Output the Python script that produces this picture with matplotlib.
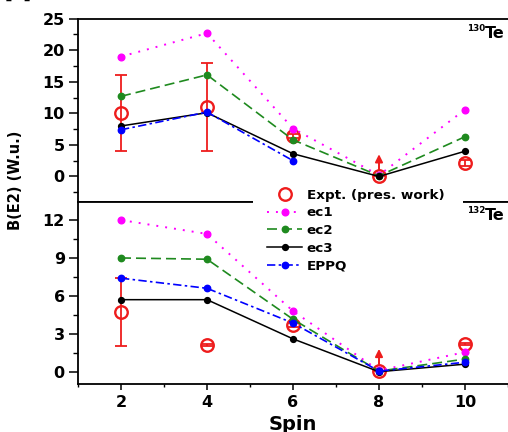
import numpy as np
import matplotlib
matplotlib.use("Agg")
import matplotlib.pyplot as plt
from matplotlib.patches import Rectangle
from matplotlib.lines import Line2D
import matplotlib.transforms as mtransforms

plt.rcParams['font.family'] = ['DejaVu Sans']
plt.rcParams['font.weight'] = 'bold'

# ---------------- data ----------------
spins = [2, 4, 6, 8, 10]

# 130Te (upper panel)
expt_130 = [10.0, 11.0, 6.4, 0.0, 2.1]
expt_130_err_lo = [6.0, 7.0, 0.3, 0.0, 0.5]
expt_130_err_hi = [6.0, 7.0, 0.3, 0.0, 0.5]
ec1_130 = [19.0, 22.7, 7.6, 0.2, 10.6]
ec2_130 = [12.7, 16.1, 5.8, 0.1, 6.3]
ec3_130 = [8.0, 10.1, 3.6, 0.0, 4.0]
eppq_130 = [7.4, 10.2, 2.5, np.nan, np.nan]

# 132Te (lower panel)
expt_132 = [4.7, 2.1, 3.7, 0.05, 2.2]
expt_132_err_lo = [2.7, 0.1, 0.15, 0.0, 0.1]
expt_132_err_hi = [2.7, 0.1, 0.15, 0.0, 0.1]
ec1_132 = [12.0, 10.9, 4.8, 0.1, 1.55]
ec2_132 = [9.0, 8.9, 4.15, 0.05, 1.0]
ec3_132 = [5.7, 5.7, 2.6, 0.0, 0.6]
eppq_132 = [7.4, 6.6, 3.85, 0.05, 0.75]

lower_limit_spin = 8  # experimental lower limit (arrow)

labels = ["Expt. (pres. work)", "ec1", "ec2", "ec3", "EPPQ"]
mass_numbers = ["130", "132"]
element = "Te"
xticks = [2, 4, 6, 8, 10]

# ---------------- style ----------------
RED = '#ee1c1c'
MAG = '#ff00ff'
GRN = '#1f8a1f'
BLU = '#0000ff'
BLK = '#000000'

W, H = 508, 432
fig = plt.figure(figsize=(W / 100, H / 100), dpi=100)

def fx(px):
    return px / W

def fy(py):
    return 1 - py / H

ax1 = fig.add_axes([fx(78), fy(201.7), fx(508) - fx(78), fy(18.7) - fy(201.7)])
ax2 = fig.add_axes([fx(78), fy(384), fx(508) - fx(78), fy(201.7) - fy(384)])

series_style = [
    dict(color=MAG, ls=(0, (1, 3.6)), lw=1.4, marker='o', ms=4.8),
    dict(color=GRN, ls=(0, (6, 3)), lw=1.2, marker='o', ms=4.6),
    dict(color=BLK, ls='-', lw=1.1, marker='o', ms=4.2),
    dict(color=BLU, ls=(0, (5, 2, 1.5, 2)), lw=1.2, marker='o', ms=4.6),
]

def draw_panel(ax, expt, elo, ehi, models):
    ax.errorbar(spins, expt, yerr=[elo, ehi], fmt='none', ecolor=RED,
                elinewidth=1.3, capsize=4, capthick=1.3, zorder=2)
    ax.plot(spins, expt, ls='none', marker='o', ms=9, mfc='none',
            mec=RED, mew=1.7, zorder=3)
    for vals, st in zip(models, series_style):
        ax.plot(spins, vals, color=st['color'], ls=st['ls'], lw=st['lw'],
                marker=st['marker'], ms=st['ms'], mfc=st['color'],
                mec=st['color'], zorder=4)
    # lower-limit arrow
    i = spins.index(lower_limit_spin)
    tip = ax.transData + mtransforms.ScaledTranslation(0, 16 / 72, fig.dpi_scale_trans)
    ax.annotate('', xy=(lower_limit_spin, expt[i]), xycoords=tip,
                xytext=(0, -11), textcoords='offset points',
                arrowprops=dict(arrowstyle='-|>', color=RED, lw=1.4,
                                mutation_scale=11, shrinkA=0, shrinkB=0),
                zorder=5)

draw_panel(ax1, expt_130, expt_130_err_lo, expt_130_err_hi,
           [ec1_130, ec2_130, ec3_130, eppq_130])
draw_panel(ax2, expt_132, expt_132_err_lo, expt_132_err_hi,
           [ec1_132, ec2_132, ec3_132, eppq_132])

for ax in (ax1, ax2):
    ax.set_xlim(1, 11)
    for s in ('left', 'top', 'bottom'):
        ax.spines[s].set_linewidth(1.3)
    ax.spines['right'].set_visible(False)
    ax.tick_params(axis='y', which='major', direction='out', length=6.5,
                   width=1.1, labelsize=11.5, pad=3)
    ax.tick_params(axis='y', which='minor', direction='out', length=3.4,
                   width=1.0)
    ax.tick_params(right=False, top=False)

ax1.set_ylim(-4, 25)
ax1.set_yticks([0, 5, 10, 15, 20, 25])
ax1.set_yticks(np.arange(-2.5, 25, 5), minor=True)
ax1.tick_params(axis='x', which='both', bottom=False, labelbottom=False)

ax2.set_ylim(-0.97, 13.45)
ax2.set_yticks([0, 3, 6, 9, 12])
ax2.set_yticks(np.arange(1.5, 13.5, 3), minor=True)
ax2.set_xticks(xticks)
ax2.set_xticks(np.arange(1, 11.5, 1), minor=True)
ax2.tick_params(axis='x', which='major', direction='out', length=4.2,
                width=1.1, labelsize=11.5, pad=4)
ax2.tick_params(axis='x', which='minor', direction='out', length=2.3,
                width=1.0)

for lab in ax1.get_yticklabels() + ax2.get_yticklabels() + ax2.get_xticklabels():
    lab.set_fontweight('bold')

# white patch hiding divider line behind legend
fig.patches.append(Rectangle((fx(253), fy(210)), fx(463) - fx(253), fy(187) - fy(210),
                             transform=fig.transFigure, facecolor='white',
                             edgecolor='none', zorder=4))

# legend
handles = [Line2D([], [], ls='none', marker='o', ms=9, mfc='none', mec=RED, mew=1.7)]
for st in series_style:
    handles.append(Line2D([], [], color=st['color'], ls=st['ls'], lw=st['lw'],
                          marker='o', ms=st['ms'], mfc=st['color'], mec=st['color']))
leg = fig.legend(handles, labels, loc='upper left',
                 bbox_to_anchor=(fx(267), fy(188.5)), frameon=False,
                 borderpad=0, borderaxespad=0, handlelength=2.6,
                 handletextpad=0.35, labelspacing=0.36,
                 prop=dict(size=9.7, weight='bold'))
leg.set_zorder(6)

# nucleus labels (element symbol with mass number as superscript)
renderer = fig.canvas.get_renderer()
for mass, base_px in zip(mass_numbers, (38.5, 220.5)):
    te = fig.text(fx(505), fy(base_px), element, ha='right', va='baseline',
                  fontsize=11.5, fontweight='bold')
    bb = te.get_window_extent(renderer)
    fig.text(bb.x0 / W + fx(0.5), fy(base_px - 7.5), mass, ha='right', va='baseline',
             fontsize=6.3, fontweight='bold')

# axis labels
fig.text(fx(16), fy(180), 'B(E2) (W.u.)', rotation=90, ha='center', va='center',
         fontsize=10.5, fontweight='bold')
fig.text(fx(292.5), fy(430.5), 'Spin', ha='center', va='baseline',
         fontsize=14, fontweight='bold')

# partially visible panel tag at the top-left edge
fig.text(fx(5), fy(-1.5), '[b]', ha='left', va='baseline', fontsize=12, fontweight='bold')

fig.savefig('out.png', dpi=100)
